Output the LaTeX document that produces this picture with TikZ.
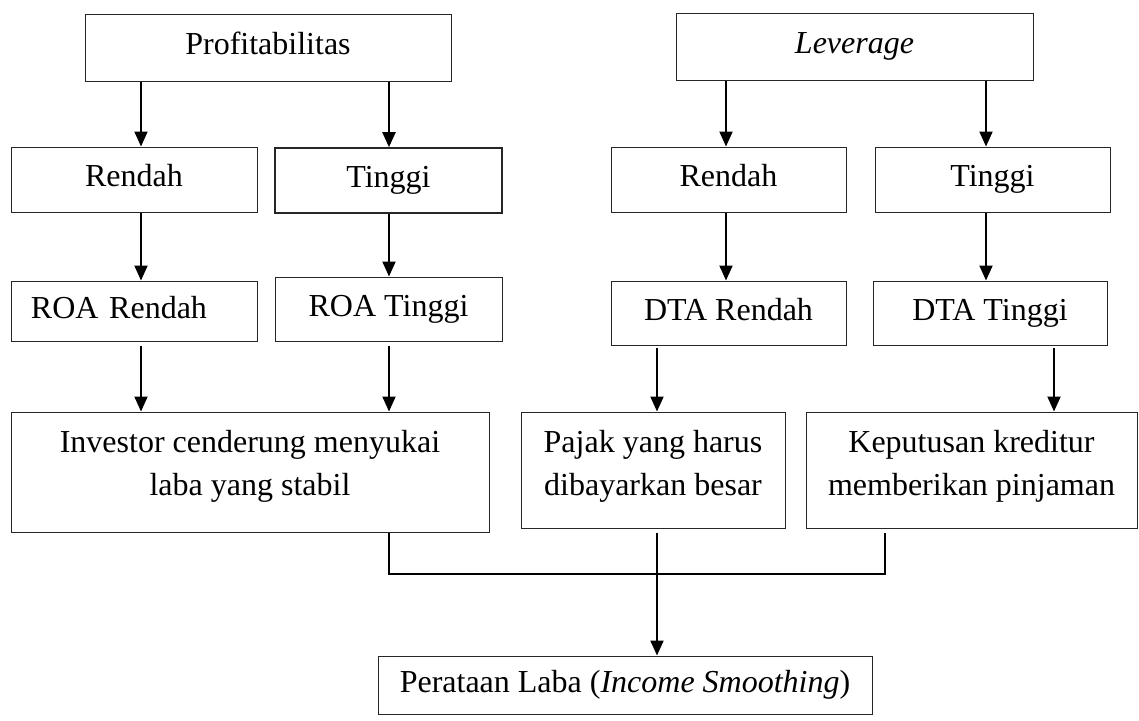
\documentclass[tikz,border=0pt]{standalone}
\usepackage{fontspec}
\setmainfont{Liberation Serif}
\usetikzlibrary{arrows.meta,positioning}
\begin{document}
\begin{tikzpicture}[
  x=0.5pt, y=-0.5pt,
  font=\fontsize{16}{21.5}\selectfont,
  box/.style={draw=black!85, line width=0.5pt, inner sep=0pt, text height=11.2pt, text depth=4pt},
  txt/.style={inner sep=0pt, align=center},
  arr/.style={line width=1pt, -{Triangle[width=6.5pt, length=7.5pt]}},
  link/.style={line width=0.7pt}
]
  \useasboundingbox (0,0) rectangle (1139,720);
  % top row
  \node[box, minimum width=183pt, minimum height=33.5pt] (prof) at (268,47.5) {Profitabilitas};
  \node[box, minimum width=178.5pt, minimum height=33.5pt] (lev) at (854.5,46.5) {\textit{Leverage}};
  % rendah / tinggi
  \node[box, minimum width=123pt, minimum height=32.5pt] (rendL) at (134,179.5) {Rendah};
  \node[box, line width=0.8pt, minimum width=113.5pt, minimum height=32.5pt] (tingL) at (388.5,180.5) {Tinggi};
  \node[box, minimum width=117.5pt, minimum height=32.5pt] (rendR) at (728.5,179.5) {Rendah};
  \node[box, minimum width=117.5pt, minimum height=32.5pt] (tingR) at (992.5,179.5) {Tinggi};
  % ROA / DTA
  \node[box, minimum width=123pt, minimum height=30pt, text width=103pt, align=left] (roaR) at (134,311) {ROA Rendah};
  \node[box, minimum width=113.5pt, minimum height=32pt] (roaT) at (388.5,309) {ROA Tinggi};
  \node[box, minimum width=117.5pt, minimum height=32pt] (dtaR) at (728.5,313) {DTA Rendah};
  \node[box, minimum width=117pt, minimum height=32pt] (dtaT) at (990,313) {DTA Tinggi};
  % effects
  \node[box, minimum width=239pt, minimum height=60pt] (inv) at (250,472) {};
  \node[box, minimum width=132pt, minimum height=58pt] (pajak) at (653,470) {};
  \node[box, minimum width=165.5pt, minimum height=58pt] (kep) at (971.5,470) {};
  \node[txt, below=9pt of inv.north] (invT) {Investor cenderung menyukai\\laba yang stabil};
  \node[txt, below=9pt of pajak.north] (pajakT) {Pajak yang harus\\dibayarkan besar};
  \node[txt, below=9pt of kep.north] (kepT) {Keputusan kreditur\\memberikan pinjaman};
  \node[box, minimum width=247pt, minimum height=29pt] (rata) at (625,685) {Perataan Laba (\textit{Income Smoothing})};

  \coordinate (cA) at (141,0);
  \coordinate (cB) at (389,0);
  \coordinate (cC) at (726,0);
  \coordinate (cD) at (986,0);
  \coordinate (cE) at (657,0);
  \coordinate (cF) at (1054,0);
  \coordinate (mL) at (389,574);
  \coordinate (mR) at (885,574);

  \draw[arr] (prof.south -| cA) -- (rendL.north -| cA);
  \draw[arr] (prof.south -| cB) -- (tingL.north -| cB);
  \draw[arr] (lev.south -| cC) -- (rendR.north -| cC);
  \draw[arr] (lev.south -| cD) -- (tingR.north -| cD);
  \draw[arr] (rendL.south -| cA) -- (roaR.north -| cA);
  \draw[arr] (tingL.south -| cB) -- (roaT.north -| cB);
  \draw[arr] (rendR.south -| cC) -- (dtaR.north -| cC);
  \draw[arr] (tingR.south -| cD) -- (dtaT.north -| cD);
  \draw[arr] ([yshift=-2pt]roaR.south -| cA) -- (inv.north -| cA);
  \draw[arr] ([yshift=-2pt]roaT.south -| cB) -- (inv.north -| cB);
  \draw[arr] ([yshift=-1pt]dtaR.south -| cE) -- (pajak.north -| cE);
  \draw[arr] ([yshift=-1pt]dtaT.south -| cF) -- (kep.north -| cF);
  % merging lines
  \draw[link] (inv.south -| mL) -- (mL) -- (mR) -- ([yshift=-2pt]kep.south -| mR);
  \draw[arr] ([yshift=-2pt]pajak.south -| cE) -- (rata.north -| cE);
\end{tikzpicture}
\end{document}
